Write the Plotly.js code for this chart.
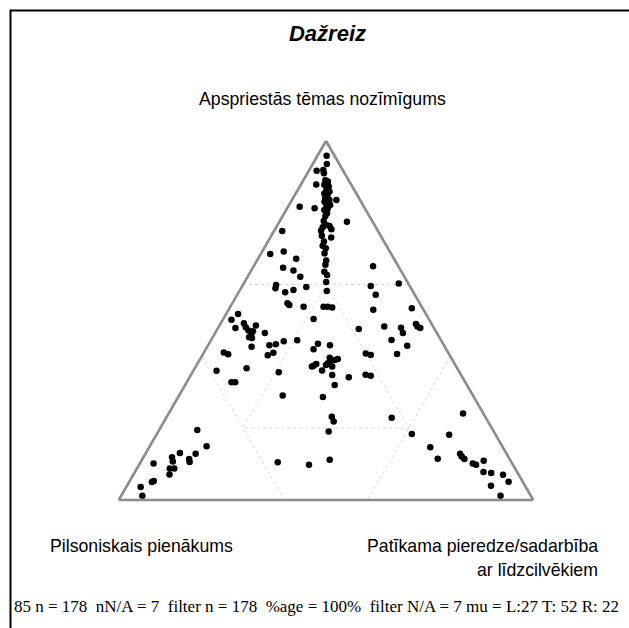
<!DOCTYPE html>
<html>
<head>
<meta charset="utf-8">
<script src="https://cdn.plot.ly/plotly-3.0.1.min.js"></script>
<style>
  html, body { margin: 0; padding: 0; background: #ffffff; }
  #chart { width: 629px; height: 628px; }
</style>
</head>
<body>
<div id="chart"></div>
<script>
// Ternary data (percent). Top = "Apspriestās tēmas nozīmīgums",
// right = "Patīkama pieredze/sadarbība ar līdzcilvēkiem";
// left ("Pilsoniskais pienākums") is the remainder to 100, filled in by Plotly.
var topVals = [
  95.9, 93.6, 91.7, 91.9, 91.0, 87.9, 89.1, 88.7, 87.8, 87.3,
  86.4, 85.9, 85.4, 85.0, 84.0, 83.6, 83.1, 82.2, 82.2, 81.3,
  80.8, 79.9, 83.6, 81.7, 81.3, 77.5, 77.7, 76.6, 76.0, 76.3,
  75.4, 75.0, 73.6, 73.1, 72.0, 70.8, 70.1, 68.7, 66.7, 65.5,
  63.6, 62.7, 60.7, 58.2, 53.8, 53.8, 53.6, 88.3, 84.7, 82.7,
  79.1, 74.9, 68.5, 69.2, 67.2, 64.7, 63.9, 62.2, 59.9, 59.0,
  57.9, 58.5, 59.3, 54.8, 54.3, 53.8, 50.4, 51.8, 50.2, 47.9,
  49.2, 48.1, 47.2, 46.5, 48.6, 47.0, 45.3, 45.1, 46.5, 42.7,
  43.1, 43.4, 44.2, 40.3, 41.0, 44.5, 41.1, 40.6, 36.0, 36.7,
  32.8, 32.8, 35.6, 29.1, 43.5, 42.0, 43.1, 39.6, 38.1, 38.6,
  39.0, 39.3, 37.2, 37.4, 37.9, 37.2, 36.1, 34.8, 34.2, 32.0,
  28.7, 37.6, 23.2, 21.9, 19.1, 11.2, 9.8, 10.5, 65.1, 59.6,
  57.2, 60.3, 53.0, 53.4, 47.6, 48.3, 44.6, 48.0, 46.5, 49.0,
  48.3, 47.9, 43.0, 40.7, 40.8, 40.4, 34.9, 34.6, 22.9, 19.5,
  15.0, 13.1, 12.9, 11.9, 10.7, 11.4, 10.6, 10.2, 8.8, 8.8,
  7.1, 5.3, 5.0, 3.6, 1.2, 18.4, 14.7, 11.5, 18.2, 24.1,
  12.9, 12.1, 11.4, 10.2, 9.8, 10.9, 7.8, 7.5, 4.0, 7.0,
  5.1, 1.2
];
var rightVals = [
  2.2, 3.4, 1.9, 3.4, 4.0, 3.7, 5.3, 6.1, 5.7, 7.0,
  6.9, 7.9, 6.9, 7.9, 7.8, 9.0, 8.1, 9.0, 9.9, 9.8,
  9.2, 10.3, 10.7, 2.8, 6.6, 16.3, 10.6, 11.8, 11.2, 12.7,
  13.6, 11.3, 12.2, 14.7, 13.5, 13.8, 14.9, 15.3, 16.7, 17.1,
  17.8, 18.9, 19.7, 21.1, 22.5, 23.5, 24.7, 6.1, 7.7, 9.1,
  10.3, 2.0, 2.3, 5.2, 9.2, 7.3, 10.2, 12.7, 8.0, 8.3,
  11.2, 12.9, 15.6, 13.3, 14.0, 17.7, 21.8, 2.9, 2.1, 4.2,
  5.6, 6.6, 7.7, 8.8, 8.8, 8.9, 8.8, 9.6, 12.0, 10.7,
  14.8, 16.2, 17.7, 15.8, 16.8, 20.8, 4.8, 6.1, 5.6, 12.5,
  10.8, 11.7, 20.8, 25.0, 26.3, 26.0, 29.4, 31.1, 31.4, 31.7,
  32.6, 33.2, 32.9, 28.3, 28.7, 28.0, 31.0, 34.1, 38.4, 36.1,
  34.9, 31.2, 39.8, 40.9, 41.1, 45.3, 41.0, 33.1, 28.8, 31.0,
  33.4, 37.4, 34.9, 44.0, 34.1, 39.9, 43.5, 44.1, 45.3, 47.2,
  47.9, 48.8, 48.1, 46.8, 39.2, 40.6, 42.1, 43.5, 54.4, 9.2,
  13.7, 8.2, 12.1, 6.9, 7.7, 11.3, 11.8, 3.3, 7.9, 9.0,
  8.7, 5.8, 5.5, 3.5, 5.1, 61.5, 67.8, 71.2, 70.6, 71.0,
  75.9, 76.7, 77.7, 80.3, 81.3, 82.6, 84.1, 86.1, 87.8, 89.2,
  91.5, 91.5
];

var chartTitle = "Dažreiz";
var topLabel = "Apspriestās tēmas nozīmīgums";
var leftLabel = "Pilsoniskais pienākums";
var rightLabelLines = ["Patīkama pieredze/sadarbība", "ar līdzcilvēkiem"];
var footerText = "85 n = 178  nN/A = 7  filter n = 178  %age = 100%  filter N/A = 7 mu = L:27 T: 52 R: 22";

// Reference grid: full lines at 60 on each axis, plus the inner triangle where every share >= 20
var gridVals = [60];
var innerGridA = [60, 20, 20, 60];
var innerGridB = [20, 60, 20, 20];
var innerGridC = [20, 20, 60, 20];

var sansFont = "Liberation Sans, Arial, sans-serif";
var serifFont = "Liberation Serif, Times New Roman, serif";
var gridColor = "#d6d6d6";

function axisStyle() {
  return {
    title: { text: "" },
    showticklabels: false,
    ticks: "",
    tickmode: "array",
    tickvals: gridVals,
    showline: true,
    linecolor: "#8c8c8c",
    linewidth: 2.6,
    showgrid: true,
    gridcolor: gridColor,
    gridwidth: 1,
    griddash: "dot"
  };
}

var innerGrid = {
  type: "scatterternary",
  mode: "lines",
  a: innerGridA,
  b: innerGridB,
  c: innerGridC,
  line: { color: gridColor, width: 1, dash: "dot" },
  hoverinfo: "skip",
  showlegend: false
};

var points = {
  type: "scatterternary",
  mode: "markers",
  a: topVals,
  c: rightVals,
  marker: { color: "#000000", size: 6.5, line: { width: 0 } },
  hoverinfo: "skip",
  showlegend: false
};

var layout = {
  width: 629,
  height: 628,
  margin: { l: 101, r: 78, t: 141, b: 128, pad: 0 },
  paper_bgcolor: "#ffffff",
  plot_bgcolor: "#ffffff",
  showlegend: false,
  title: {
    text: chartTitle,
    xref: "container", yref: "container",
    x: 0.5207, y: 0.9475,
    xanchor: "center", yanchor: "middle",
    font: { family: sansFont, size: 22, weight: "bold", style: "italic", color: "#000000" }
  },
  ternary: {
    sum: 100,
    bgcolor: "#ffffff",
    aaxis: axisStyle(),
    baxis: axisStyle(),
    caxis: axisStyle()
  },
  annotations: [
    { text: topLabel, xref: "paper", yref: "paper", x: 0.4933, y: 1.117,
      xanchor: "center", yanchor: "middle", showarrow: false,
      font: { family: sansFont, size: 17.7, color: "#000000" } },
    { text: leftLabel, xref: "paper", yref: "paper", x: 0.0889, y: -0.128,
      xanchor: "center", yanchor: "middle", showarrow: false,
      font: { family: sansFont, size: 17.7, color: "#000000" } },
    { text: rightLabelLines[0], xref: "paper", yref: "paper", x: 1.1089, y: -0.128,
      xanchor: "right", yanchor: "middle", showarrow: false,
      font: { family: sansFont, size: 17.7, color: "#000000" } },
    { text: rightLabelLines[1], xref: "paper", yref: "paper", x: 1.1089, y: -0.195,
      xanchor: "right", yanchor: "middle", showarrow: false,
      font: { family: serifFont === "" ? sansFont : sansFont, size: 17.7, color: "#000000" } },
    { text: footerText, xref: "paper", yref: "paper", x: -0.1978, y: -0.298,
      xanchor: "left", yanchor: "middle", showarrow: false,
      font: { family: serifFont, size: 17, color: "#000000" } }
  ],
  shapes: [
    { type: "rect", xref: "paper", yref: "paper",
      x0: -0.2011, x1: 1.2, y0: -0.4, y1: 1.3635,
      line: { color: "#000000", width: 2 }, fillcolor: "rgba(0,0,0,0)", layer: "above" }
  ]
};

Plotly.newPlot("chart", [innerGrid, points], layout, { displayModeBar: false, staticPlot: true });
</script>
</body>
</html>
